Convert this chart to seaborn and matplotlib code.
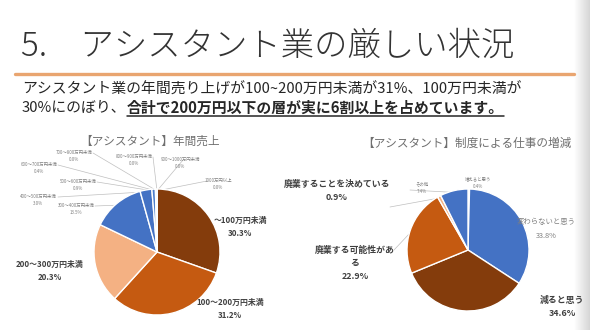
import numpy as np
import matplotlib.pyplot as plt
import matplotlib.colors as mcolors
import seaborn as sns

# Data: annual sales of assistants
sales_labels = ["～100万円未満", "100～200万円未満", "200～300万円未満", "300～400万円未満",
                "400～500万円未満", "500～600万円未満", "600～700万円未満", "700～800万円未満",
                "800～900万円未満", "900～1000万円未満", "1000万円以上"]
sales_values = [30.3, 31.2, 20.3, 13.5, 3.0, 0.9, 0.4, 0.0, 0.0, 0.0, 0.0]
sales_colors = ["#843C0C", "#C55A11", "#F4B183", "#4472C4", "#4472C4", "#4F7FCC",
                "#9DC3E6", "#BDD7EE", "#BDD7EE", "#BDD7EE", "#BDD7EE"]

# Data: change of work due to the system
work_labels = ["増えると思う", "変わらないと思う", "減ると思う", "廃業する可能性があ\nる",
               "廃業することを決めている", "その他"]
work_values = [0.4, 33.8, 34.6, 22.9, 0.9, 7.4]
work_colors = ["#9DC3E6", "#4472C4", "#843C0C", "#C55A11", "#F4B183", "#4472C4"]

sns.set_theme(style="white")
plt.rcParams['font.family'] = ['Noto Sans CJK JP', 'DejaVu Sans']

W, H = 590, 330
fig = plt.figure(figsize=(W / 100, H / 100), dpi=100)
bg = fig.add_axes([0, 0, 1, 1])
bg.set_xlim(0, W)
bg.set_ylim(H, 0)
bg.axis('off')

# slide shading on the right edge
grad = np.linspace(0, 1, 50).reshape(1, -1)
cmap = mcolors.LinearSegmentedColormap.from_list("edge", ["#ffffff", "#d6d6d6"])
bg.imshow(grad, extent=[574, 590, H, 0], cmap=cmap, aspect='auto', zorder=0)

# header
bg.text(21, 46, "5.\u3000アシスタント業の厳しい状況", fontsize=24, fontweight='light',
        color="#333333", va='center', ha='left')
bg.plot([15, 574], [74, 74], color="#E9A570", lw=2.4, solid_capstyle='round')

dark = "#262626"
bg.text(22, 90, "アシスタント業の年間売り上げが100~200万円未満が31%、100万円未満が",
        fontsize=10.7, color=dark, va='center')
t1 = bg.text(22, 108, "30%にのぼり、", fontsize=10.7, color=dark, va='center')
fig.canvas.draw()
x_bold = t1.get_window_extent().x1
t2 = bg.text(x_bold, 108, "合計で200万円以下の層が実に6割以上を占めています。",
             fontsize=10.7, color=dark, va='center', fontweight='bold')
fig.canvas.draw()
bb = t2.get_window_extent()
bg.plot([bb.x0, bb.x1], [116, 116], color=dark, lw=1.1)

# chart titles
bg.text(150, 141, "【アシスタント】年間売上", fontsize=8.4, color="#6F6F6F",
        ha='center', va='center')
bg.text(467, 143, "【アシスタント】制度による仕事の増減", fontsize=8.4, color="#6F6F6F",
        ha='center', va='center')


def pie_axes(cx, cy, r):
    ax = fig.add_axes([(cx - r) / W, (H - cy - r) / H, 2 * r / W, 2 * r / H])
    ax.set_xlim(-1, 1)
    ax.set_ylim(-1, 1)
    ax.axis('off')
    return ax


def draw_pie(ax, values, colors):
    wedges, _ = ax.pie(values, colors=colors, startangle=90, counterclock=False,
                       radius=1, wedgeprops=dict(edgecolor='white', linewidth=1.0))
    ax.set_xlim(-1, 1)
    ax.set_ylim(-1, 1)
    return wedges


def edge_point(cx, cy, r, wedge, frac=1.0):
    ang = np.deg2rad((wedge.theta1 + wedge.theta2) / 2)
    return cx + r * frac * np.cos(ang), cy - r * frac * np.sin(ang)


lcx, lcy, lr = 157, 252, 63
axl = pie_axes(lcx, lcy, lr)
lw = draw_pie(axl, sales_values, sales_colors)

rcx, rcy, rr = 468, 250, 61
axr = pie_axes(rcx, rcy, rr)
rw = draw_pie(axr, work_values, work_colors)

# overlay for labels so they sit above the pies
ov = fig.add_axes([0, 0, 1, 1])
ov.set_xlim(0, W)
ov.set_ylim(H, 0)
ov.axis('off')
ov.patch.set_alpha(0)

big = dict(fontsize=5.7, fontweight='bold', color="#404040", ha='center', va='center',
           linespacing=1.5)
small = dict(fontsize=3.2, color="#7F7F7F", ha='center', va='center', linespacing=1.7)
lbl_pos = [(240, 227, big), (230, 309, big), (50, 271, big), (76, 209, small),
           (38, 200, small), (78, 185, small), (39, 168, small), (74, 156, small),
           (134, 160, small), (180, 163, small), (218, 184, small)]
line_from = [None, None, None, (95, 206), (58, 197), (97, 182), (58, 165), (93, 153),
             (153, 157), (183, 160), (207, 181)]
for lab, val, (x, y, st), src, w in zip(sales_labels, sales_values, lbl_pos, line_from, lw):
    ov.text(x, y, f"{lab}\n{val:.1f}%", **st)
    if src is not None:
        px, py = edge_point(lcx, lcy, lr, w, 0.97)
        bg.plot([src[0], px], [src[1], py], color="#BFBFBF", lw=0.5, zorder=5)

big_r = dict(big, fontsize=6.4, linespacing=1.57)
gray_mid = dict(fontsize=5.3, color="#7F7F7F", ha='center', va='center', linespacing=1.9)
tiny = dict(fontsize=3.2, color="#7F7F7F", ha='center', va='center', linespacing=1.7)
rpos = [(478, 183, tiny), (546, 229, gray_mid), (562, 307, big_r), (355, 263, big_r),
        (337, 191, big_r), (422, 188, tiny)]
rline = [None, None, None, (394, 250), (390, 207), (410, 190)]
for lab, val, (x, y, st), src, w in zip(work_labels, work_values, rpos, rline, rw):
    ov.text(x, y, f"{lab}\n{val:.1f}%", **st)
    if src is not None:
        px, py = edge_point(rcx, rcy, rr, w, 0.97)
        bg.plot([src[0], px], [src[1], py], color="#BFBFBF", lw=0.5, zorder=5)

fig.savefig("out.png", dpi=100)
